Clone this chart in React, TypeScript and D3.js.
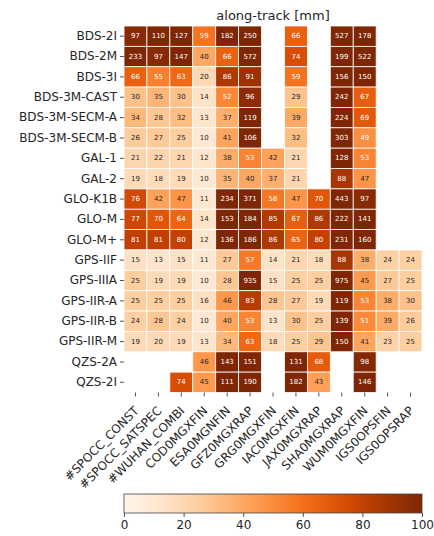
import { useRef, useEffect } from 'react'
import * as d3 from 'd3'

const W = 434
const H = 536
const GRID = { left: 124, right: 422, top: 26, bottom: 392.5 }
const CBAR = { top: 494, bottom: 513 }

const satellites = [
  'BDS-2I', 'BDS-2M', 'BDS-3I', 'BDS-3M-CAST', 'BDS-3M-SECM-A', 'BDS-3M-SECM-B',
  'GAL-1', 'GAL-2', 'GLO-K1B', 'GLO-M', 'GLO-M+', 'GPS-IIF', 'GPS-IIIA',
  'GPS-IIR-A', 'GPS-IIR-B', 'GPS-IIR-M', 'QZS-2A', 'QZS-2I',
]

const solutions = [
  '#SPOCC_CONST', '#SPOCC_SATSPEC', '#WUHAN_COMBI', 'COD0MGXFIN', 'ESA0MGNFIN',
  'GFZ0MGXRAP', 'GRG0MGXFIN', 'IAC0MGXFIN', 'JAX0MGXRAP', 'SHA0MGXRAP',
  'WUM0MGXFIN', 'IGS0OPSFIN', 'IGS0OPSRAP',
]

const _ = null
// one row per satellite type, one value per solution (mm)
const values: (number | null)[][] = [
  [97, 110, 127, 59, 182, 250, _, 66, _, 527, 178, _, _],
  [233, 97, 147, 40, 66, 572, _, 74, _, 199, 522, _, _],
  [66, 55, 63, 20, 86, 91, _, 59, _, 156, 150, _, _],
  [30, 35, 30, 14, 52, 96, _, 29, _, 242, 67, _, _],
  [34, 28, 32, 13, 37, 119, _, 39, _, 224, 69, _, _],
  [26, 27, 25, 10, 41, 106, _, 32, _, 303, 49, _, _],
  [21, 22, 21, 12, 38, 53, 42, 21, _, 128, 53, _, _],
  [19, 18, 19, 10, 35, 40, 37, 21, _, 88, 47, _, _],
  [76, 42, 47, 11, 234, 371, 58, 47, 70, 443, 97, _, _],
  [77, 70, 64, 14, 153, 184, 85, 67, 86, 222, 141, _, _],
  [81, 81, 80, 12, 136, 186, 86, 65, 80, 231, 160, _, _],
  [15, 13, 15, 11, 27, 57, 14, 21, 18, 88, 38, 24, 24],
  [25, 19, 19, 10, 28, 935, 15, 25, 25, 975, 45, 27, 25],
  [25, 25, 25, 16, 46, 83, 28, 27, 19, 119, 53, 38, 30],
  [24, 28, 24, 10, 40, 53, 13, 30, 25, 139, 51, 39, 26],
  [19, 20, 19, 13, 34, 63, 18, 25, 29, 150, 41, 23, 25],
  [_, _, _, 46, 143, 151, _, 131, 68, _, 98, _, _],
  [_, _, 74, 45, 111, 190, _, 182, 43, _, 146, _, _],
]

const colorbarTicks = [0, 20, 40, 60, 80, 100]
const TEXT = '#262626'
const FONT = 'DejaVu Sans, sans-serif'

// seaborn-style annotation colour from relative luminance
function annotColor(fill: string) {
  const c = d3.rgb(fill)
  const lin = [c.r, c.g, c.b].map((v) => {
    const s = v / 255
    return s <= 0.03928 ? s / 12.92 : Math.pow((s + 0.055) / 1.055, 2.4)
  })
  const lum = 0.2126 * lin[0] + 0.7152 * lin[1] + 0.0722 * lin[2]
  return lum > 0.408 ? TEXT : '#ffffff'
}

export default function App() {
  const svgRef = useRef<SVGSVGElement>(null)

  useEffect(() => {
    if (!svgRef.current) return
    const svg = d3.select(svgRef.current)
    svg.selectAll('*').remove()

    const x = d3.scaleBand().domain(solutions).range([GRID.left, GRID.right])
    const y = d3.scaleBand().domain(satellites).range([GRID.top, GRID.bottom])
    const color = d3.scaleSequential(d3.interpolateOranges).domain([0, 100]).clamp(true)

    const cells = values.flatMap((row, i) =>
      row.map((v, j) => ({ sat: satellites[i], sol: solutions[j], v })).filter((d) => d.v !== null),
    )

    const g = svg.append('g')
    g.selectAll('rect.cell')
      .data(cells)
      .join('rect')
      .attr('class', 'cell')
      .attr('x', (d) => x(d.sol)!)
      .attr('y', (d) => y(d.sat)!)
      .attr('width', x.bandwidth())
      .attr('height', y.bandwidth())
      .attr('fill', (d) => color(d.v as number))
      .attr('stroke', '#ffffff')
      .attr('stroke-width', 0.8)

    g.selectAll('text.annot')
      .data(cells)
      .join('text')
      .attr('class', 'annot')
      .attr('x', (d) => x(d.sol)! + x.bandwidth() / 2)
      .attr('y', (d) => y(d.sat)! + y.bandwidth() / 2)
      .attr('text-anchor', 'middle')
      .attr('dominant-baseline', 'central')
      .attr('font-size', 7)
      .attr('font-family', FONT)
      .attr('fill', (d) => annotColor(color(d.v as number)))
      .text((d) => String(d.v))

    // y axis
    const yAxis = svg
      .append('g')
      .attr('transform', `translate(${GRID.left},0)`)
      .call(d3.axisLeft(y).tickSize(4).tickPadding(3))
    yAxis.select('.domain').remove()
    yAxis.selectAll('line').attr('stroke', TEXT).attr('stroke-width', 0.8)
    yAxis.selectAll('text').attr('font-size', 12).attr('font-family', FONT).attr('fill', TEXT)

    // x axis with rotated labels
    const xAxis = svg
      .append('g')
      .attr('transform', `translate(0,${GRID.bottom})`)
      .call(d3.axisBottom(x).tickSize(4))
    xAxis.select('.domain').remove()
    xAxis.selectAll('line').attr('stroke', TEXT).attr('stroke-width', 0.8)
    xAxis
      .selectAll('text')
      .attr('font-size', 12)
      .attr('font-family', FONT)
      .attr('fill', TEXT)
      .attr('y', 0)
      .attr('dy', 0)
      .attr('text-anchor', 'end')
      .attr('transform', 'translate(4,19) rotate(-45)')

    // title
    svg
      .append('text')
      .attr('x', (GRID.left + GRID.right) / 2)
      .attr('y', 20)
      .attr('text-anchor', 'middle')
      .attr('font-size', 13)
      .attr('font-family', FONT)
      .attr('fill', TEXT)
      .text('along-track [mm]')

    // colorbar
    const cx = d3.scaleLinear().domain([0, 100]).range([GRID.left, GRID.right])
    const defs = svg.append('defs')
    const grad = defs
      .append('linearGradient')
      .attr('id', 'cbar-grad')
      .attr('x1', '0%')
      .attr('x2', '100%')
      .attr('y1', '0%')
      .attr('y2', '0%')
    d3.range(0, 1.0001, 0.05).forEach((t) => {
      grad
        .append('stop')
        .attr('offset', `${t * 100}%`)
        .attr('stop-color', color(t * 100))
    })
    svg
      .append('rect')
      .attr('x', GRID.left)
      .attr('y', CBAR.top)
      .attr('width', GRID.right - GRID.left)
      .attr('height', CBAR.bottom - CBAR.top)
      .attr('fill', 'url(#cbar-grad)')
      .attr('stroke', '#444')
      .attr('stroke-width', 0.8)

    const cAxis = svg
      .append('g')
      .attr('transform', `translate(0,${CBAR.bottom})`)
      .call(d3.axisBottom(cx).tickValues(colorbarTicks).tickSize(4).tickPadding(3))
    cAxis.select('.domain').remove()
    cAxis.selectAll('line').attr('stroke', TEXT).attr('stroke-width', 0.8)
    cAxis.selectAll('text').attr('font-size', 12).attr('font-family', FONT).attr('fill', TEXT)
  }, [])

  return (
    <div style={{ position: 'absolute', left: 0, top: 0, width: W, height: H, background: '#fff' }}>
      <svg ref={svgRef} width={W} height={H} style={{ display: 'block' }} />
    </div>
  )
}
